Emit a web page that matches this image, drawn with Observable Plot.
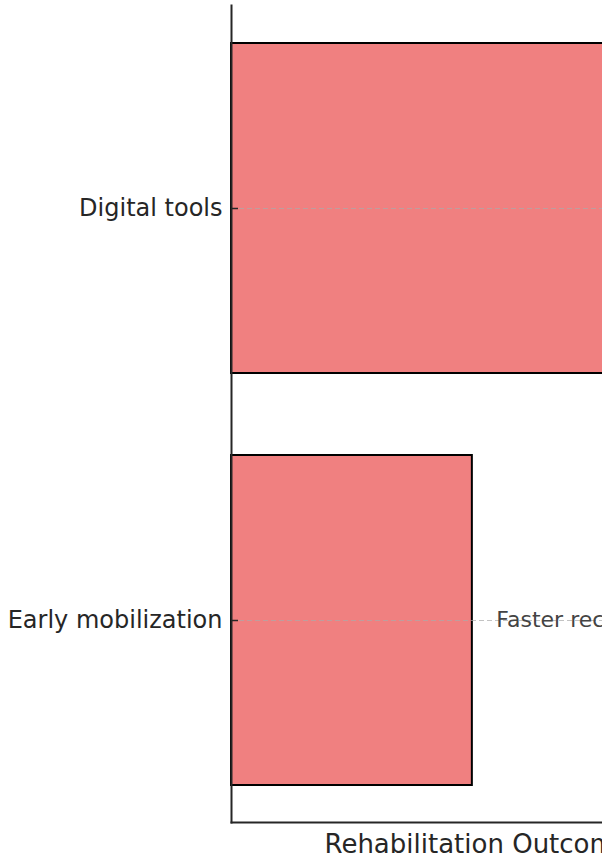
<!DOCTYPE html>
<html>
<head>
<meta charset="utf-8">
<script src="https://cdn.jsdelivr.net/npm/d3@7"></script>
<script src="https://cdn.jsdelivr.net/npm/@observablehq/plot@0.6"></script>
<style>
  html, body { margin: 0; padding: 0; background: #fff; }
  svg { overflow: hidden; }
</style>
</head>
<body>
<div id="chart"></div>
<script>
const categories = ["Digital tools", "Early mobilization"];
const values = [30, 15];
const annotations = ["", "Faster recovery"];
const xLabel = "Rehabilitation Outcome Score";
const xDomain = [0, 35];

const data = categories.map((c, i) => ({category: c, value: values[i], note: annotations[i]}));

const chart = Plot.plot({
  width: 602,
  height: 855,
  marginLeft: 231,
  marginRight: 0,
  marginTop: 5,
  marginBottom: 33,
  style: {fontFamily: "DejaVu Sans, sans-serif", color: "#262626", background: "#fff"},
  x: {domain: xDomain, range: [231, 793]},
  y: {domain: categories, paddingInner: 0.2, paddingOuter: 0.0896},
  marks: [
    Plot.barX(data, {y: "category", x: "value", fill: "#F08080", stroke: "#000", strokeWidth: 2}),
    Plot.gridY(categories, {stroke: "#aaa", strokeOpacity: 0.7, strokeWidth: 1, strokeDasharray: "5,3"}),
    Plot.axisX({ticks: [], label: null}),
    Plot.axisY({anchor: "left", tickSize: -7, tickPadding: 16, fontSize: 24, label: null, stroke: "#262626", strokeWidth: 1.5, fill: "#262626"}),
    Plot.frame({anchor: "left", stroke: "#262626", strokeWidth: 2}),
    Plot.frame({anchor: "bottom", stroke: "#262626", strokeWidth: 2}),
    Plot.text(data.filter(d => d.note), {y: "category", x: "value", text: "note", textAnchor: "start", dx: 24, dy: -1, fontSize: 22, fill: "#444"}),
    Plot.text([xLabel], {frameAnchor: "bottom-left", textAnchor: "start", lineAnchor: "bottom", dx: 93, dy: 30, fontSize: 26, fill: "#262626"})
  ]
});
document.getElementById("chart").appendChild(chart);
</script>
</body>
</html>
